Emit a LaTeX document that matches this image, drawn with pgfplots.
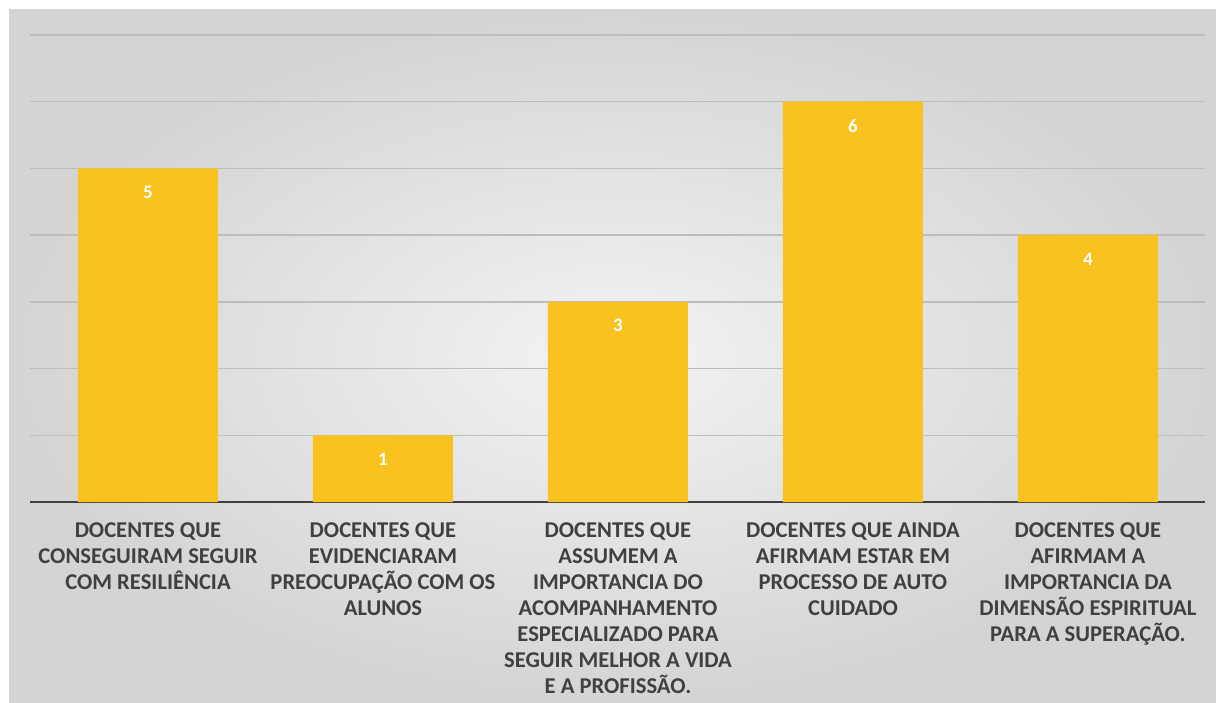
\documentclass[border=0pt]{standalone}
\usepackage{pgfplots}
\pgfplotsset{compat=1.18}
\usepackage{fontspec}
\setmainfont{Carlito}
\definecolor{barc}{HTML}{FAC21E}
\definecolor{lab}{HTML}{404040}
\definecolor{gridc}{HTML}{BDBDBD}
\definecolor{bgin}{HTML}{F3F3F3}
\definecolor{bgout}{HTML}{D4D4D4}
\begin{document}
\begin{tikzpicture}[x=1pt,y=1pt]
\path[use as bounding box] (0,0) rectangle (1216,702);
\shade[inner color=bgin, outer color=bgout] (9,0) rectangle (1216,692);
\begin{axis}[
  at={(30.5pt,200pt)}, anchor=south west,
  scale only axis, width=1175pt, height=467pt,
  xmin=-0.5, xmax=4.5, ymin=0, ymax=7,
  axis x line=bottom, axis y line=left,
  x axis line style={-, draw=lab, line width=2.2pt},
  y axis line style={draw=none},
  ytick={1,2,3,4,5,6,7}, yticklabels={},
  ymajorgrids, grid style={draw=gridc, line width=1.3pt},
  major tick length=0pt,
  xtick=data,
  xticklabels={{DOCENTES QUE\\CONSEGUIRAM SEGUIR\\COM RESILIÊNCIA},
               {DOCENTES QUE\\EVIDENCIARAM\\PREOCUPAÇÃO COM OS\\ALUNOS},
               {DOCENTES QUE\\ASSUMEM A\\IMPORTANCIA DO\\ACOMPANHAMENTO\\ESPECIALIZADO PARA\\SEGUIR MELHOR A VIDA\\E A PROFISSÃO.},
               {DOCENTES QUE AINDA\\AFIRMAM ESTAR EM\\PROCESSO DE AUTO\\CUIDADO},
               {DOCENTES QUE\\AFIRMAM A\\IMPORTANCIA DA\\DIMENSÃO ESPIRITUAL\\PARA A SUPERAÇÃO.}},
  xticklabel style={align=center, text=lab, font=\fontsize{22.6}{26}\selectfont\bfseries, anchor=north, yshift=-17pt},
  ybar, bar width=140pt,
  nodes near coords,
  /pgf/number format/assume math mode=true,
  nodes near coords style={anchor=north, yshift=-14pt, text=white, font=\fontsize{19}{19}\selectfont\bfseries},
  clip=false,
]
\addplot[fill=barc, draw=none] coordinates {(0,5) (1,1) (2,3) (3,6) (4,4)};
\end{axis}
\end{tikzpicture}
\end{document}
